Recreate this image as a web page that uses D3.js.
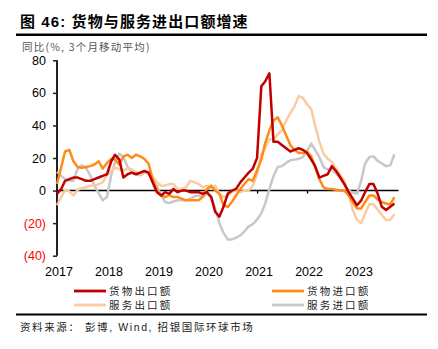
<!DOCTYPE html>
<html><head><meta charset="utf-8">
<script src="https://cdn.jsdelivr.net/npm/d3@7"></script>
<style>
body{margin:0;background:#fff;}
svg{display:block;}
</style></head>
<body>
<svg id="c" width="438" height="349"></svg>
<script>
// Monthly, Jan 2017 - Oct 2023 (3-month moving average, YoY %)
const startYear = 2017, startMonth = 0;
const goodsExports = [-2,1,6,7,8,8,7,6,6,7,8,9, 10,18,22,19,8,10,11,10,11,12,11,5, -1,-3,-1,-2,1,-1,0,0,-1,-1,-1,-2, -1,-4,-13,-16,-10,-2,0,1,5,8,11,13.5, 20,64,67,72,30,30,28,26,24,25,26,25, 23,19,15,8,9,10,15,12,8,4,-1,-5, -9,-6,-1,4,4,-2,-10,-12,-10,-8];
const goodsImports = [4,14.5,24,25,18,14.5,14,14.5,15,16,18,13.5, 17,19.5,19,16,21,22,20,22,21,19.5,16.5,7, 0,-3,-4,-3,-4,-4,-5,-6,-6,-6,-6,-4, 1,3,0,-2,-9,-10,-7,-3,1,4,7,6, 12.5,19,29,37,43,45,40,34,28,25,23,23, 24,21,14.5,7,2,1,1,0.5,0,0,-3,-7, -11,-11,-7,-3,-3,-5.5,-7,-8,-8.5,-4];
const servicesExports = [-9,-4,0.5,-0.5,-3,0.5,1.5,2,3,3,4,5, 9.5,12,14,13,12.5,13.5,13,11.5,10,11,11.5,8.5, 5,3,3,4,4,1,1,2,6,5,4,2, 3,1,3,-2,-4,-3,-1,0,-1,0,0,3, 10,22,26,31.5,31.5,34.5,37,43,47.6,51.7,58,57, 53,50,40,30,22.7,19.6,17.6,13.5,9.4,6,-2,-12, -18,-20,-14,-8.4,-8.4,-11.7,-15,-18,-18,-14.5];
const servicesImports = [11.5,9,7,6,6,13.5,15.5,14,9.4,3,-1.5,-6, -4,9.4,17.6,22.7,20.6,14.5,11.5,10,9.4,11,10.4,7.4, 2.7,-3,-7,-7.6,-6.7,-6,-6,-6,-5,-3.5,-3,-4, -2,-3.5,-11,-20,-26,-30,-30,-29,-27.5,-25,-22,-20.6, -17.8,-14,-8,1,8.8,14.5,15,17,18.6,19,19.4,20.6, 24.3,28.8,25,20.6,14.5,12.9,12.9,10.4,7.4,3.9,0,-1.4, -1.8,6.3,16.6,20.6,21,18.2,16.6,15,15.5,22.3];
const yearLabels = ["2017","2018","2019","2020","2021","2022","2023"];
const yTicks = [80,60,40,20,0,-20,-40];
const seriesNames = ["货物出口额","货物进口额","服务出口额","服务进口额"];
const seriesColors = ["#C00000","#FF8C1A","#FBCBA2","#C8C8C8"];

const svg = d3.select("#c");
const cjk = "'Liberation Sans','Noto Sans CJK SC',sans-serif";

const dates = goodsExports.map((d,i)=>new Date(startYear, startMonth+i, 1));
const x = d3.scaleTime().domain([new Date(2017,0,1), new Date(2024,0,1)]).range([57, 407]);
const y = d3.scaleLinear().domain([-40,80]).range([255.7, 60.3]);

// Title
svg.append("text").attr("x",20).attr("y",26.5)
  .attr("font-family",cjk).attr("font-size",15).attr("font-weight","bold")
  .attr("letter-spacing",1.1).attr("fill","#000").text("图 46: 货物与服务进出口额增速");
svg.append("line").attr("x1",16).attr("x2",427).attr("y1",34.8).attr("y2",34.8)
  .attr("stroke","#000").attr("stroke-width",2.6);
svg.append("text").attr("x",22).attr("y",50.5)
  .attr("font-family","'Noto Sans CJK SC',sans-serif").attr("font-size",10.5)
  .attr("fill","#555").attr("letter-spacing",1.2).text("同比(%, 3个月移动平均)");

// Y axis
const yAxis = d3.axisLeft(y).tickValues(yTicks).tickSize(4).tickPadding(7)
  .tickFormat(d => d<0 ? "("+Math.abs(d)+")" : d);
const gy = svg.append("g").attr("transform","translate(57,0)").call(yAxis);
gy.select(".domain").attr("stroke","#222").attr("stroke-width",2).attr("d","M0,"+y(80)+"V"+y(-40));
gy.selectAll(".tick line").attr("stroke","#222").attr("stroke-width",1.5);
gy.selectAll(".tick text").attr("font-family","'Liberation Sans',Arial,sans-serif")
  .attr("font-size",12.5).attr("fill",d=>d<0?"#FF0000":"#000");

// Zero line with year ticks
const xEnd = x(new Date(2023,10,1));
const xAxis = d3.axisBottom(x).tickValues(yearLabels.map(s=>new Date(+s,0,1)))
  .tickSize(3).tickFormat("");
const gx = svg.append("g").attr("transform","translate(0,"+y(0)+")").call(xAxis);
gx.select(".domain").attr("stroke","#000").attr("stroke-width",1.6).attr("d","M57,0H"+xEnd);
gx.selectAll(".tick line").attr("stroke","#000").attr("stroke-width",1.3);

// Year labels
svg.append("g").selectAll("text").data(yearLabels).join("text")
  .attr("x",d=>x(new Date(+d,0,1))+2).attr("y",275.5).attr("text-anchor","middle")
  .attr("font-family","'Liberation Sans',Arial,sans-serif").attr("font-size",12.5)
  .attr("fill","#000").text(d=>d);

// Lines
const line = d3.line().x((d,i)=>x(dates[i])).y(d=>y(d)).curve(d3.curveLinear);
const allSeries = [goodsExports, goodsImports, servicesExports, servicesImports];
const drawOrder = [3,2,1,0];
drawOrder.forEach(k=>{
  svg.append("path").datum(allSeries[k]).attr("d",line)
    .attr("fill","none").attr("stroke",seriesColors[k]).attr("stroke-width",2.5)
    .attr("stroke-linejoin","round");
});

// Legend
const legPos = [[74,291],[272,291],[74,305],[272,305]];
seriesNames.forEach((n,k)=>{
  const [lx,ly] = legPos[k];
  svg.append("line").attr("x1",lx).attr("x2",lx+32).attr("y1",ly).attr("y2",ly)
    .attr("stroke",seriesColors[k]).attr("stroke-width",2.8);
  svg.append("text").attr("x",lx+35).attr("y",ly+3.8)
    .attr("font-family","'Noto Sans CJK SC',sans-serif").attr("font-size",10.5)
    .attr("letter-spacing",2.2).attr("fill","#222").text(n);
});

// Bottom rule and source
svg.append("line").attr("x1",16).attr("x2",427).attr("y1",314.5).attr("y2",314.5)
  .attr("stroke","#000").attr("stroke-width",2.2);
svg.append("text").attr("x",20).attr("y",330.5)
  .attr("font-family",cjk).attr("font-size",10.5).attr("letter-spacing",1.6)
  .attr("fill","#222").text("资料来源： 彭博, Wind, 招银国际环球市场");
</script>
</body></html>
